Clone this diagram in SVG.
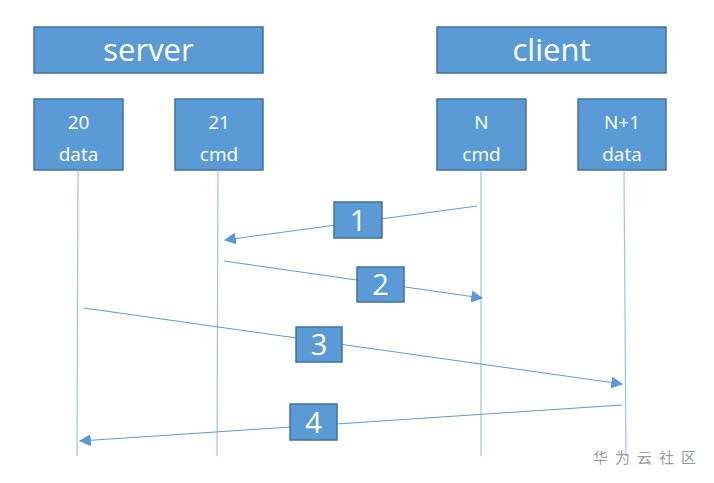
<svg xmlns="http://www.w3.org/2000/svg" width="714" height="483" viewBox="0 0 714 483">
<style>
.box{fill:#5B9BD5;stroke:#41719C;stroke-width:1.5}
.t{fill:#fff;font-family:"Open Sans","Liberation Sans",sans-serif;text-anchor:middle}
.big{font-size:31px}
.sm{font-size:19px}
.num{font-size:29px}
.life{stroke:#9DC3E6;stroke-width:1.2;fill:none}
.arr{stroke:#5B9BD5;stroke-width:1;fill:none;marker-end:url(#ah)}
</style>
<defs>
<marker id="ah" viewBox="0 0 10 10" refX="9" refY="5" markerWidth="12" markerHeight="12" markerUnits="userSpaceOnUse" orient="auto">
<path d="M0,0 L10,5 L0,10 z" fill="#5B9BD5"/>
</marker>
</defs>
<rect width="714" height="483" fill="#fff"/>
<g id="server"><rect class="box" x="34" y="27" width="229" height="46"/><text class="t big" x="148.5" y="61">server</text></g>
<g id="client"><rect class="box" x="437" y="27" width="229" height="46"/><text class="t big" x="551.5" y="61">client</text></g>
<g id="p20"><rect class="box" x="34" y="99" width="89" height="71"/><text class="t sm" x="78.5" y="129">20</text><text class="t sm" x="78.5" y="161">data</text></g>
<g id="p21"><rect class="box" x="175" y="99" width="88" height="71"/><text class="t sm" x="219" y="129">21</text><text class="t sm" x="219" y="161">cmd</text></g>
<g id="pN"><rect class="box" x="437" y="99" width="89" height="71"/><text class="t sm" x="481.5" y="129">N</text><text class="t sm" x="481.5" y="161">cmd</text></g>
<g id="pN1"><rect class="box" x="578" y="99" width="88" height="71"/><text class="t sm" x="622" y="129">N+1</text><text class="t sm" x="622" y="161">data</text></g>
<g id="connectors">
<line class="life" x1="78" y1="170" x2="77" y2="456"/>
<line class="life" x1="218" y1="170" x2="217" y2="456"/>
<line class="life" x1="481" y1="170" x2="481" y2="456"/>
<line class="life" x1="624" y1="170" x2="626" y2="456"/>
<line class="arr" x1="477" y1="206" x2="225" y2="240"/>
<line class="arr" x1="224" y1="261" x2="482" y2="298"/>
<line class="arr" x1="84" y1="308" x2="622" y2="384"/>
<line class="arr" x1="622" y1="405" x2="80" y2="441"/>
</g>
<g id="l1"><rect class="box" x="334" y="202" width="48" height="36"/><text class="t num" x="358" y="231">1</text></g>
<g id="l2"><rect class="box" x="357" y="267" width="47" height="35"/><text class="t num" x="380.5" y="295">2</text></g>
<g id="l3"><rect class="box" x="296" y="327" width="46" height="35"/><text class="t num" x="319" y="355">3</text></g>
<g id="l4"><rect class="box" x="290" y="404" width="47" height="36"/><text class="t num" x="313.5" y="433">4</text></g>
<text x="593" y="463" font-family="Noto Sans CJK SC,sans-serif" font-size="15" fill="#999" letter-spacing="7">华为云社区</text>
</svg>
